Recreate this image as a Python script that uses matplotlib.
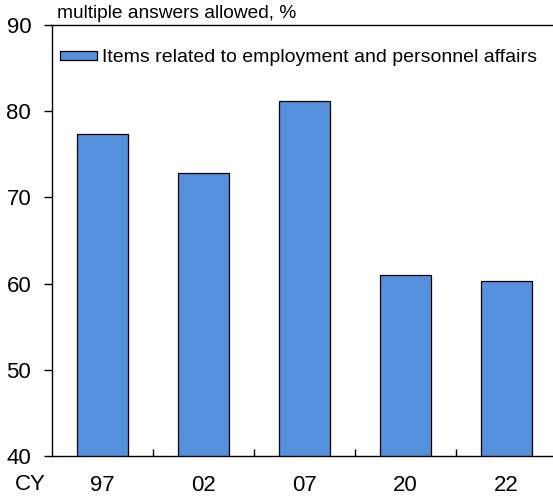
import matplotlib
matplotlib.use("Agg")
import matplotlib.pyplot as plt
import numpy as np

plt.rcParams['font.family'] = ['Liberation Sans', 'DejaVu Sans']

# data
years = ["97", "02", "07", "20", "22"]
values = [77.4, 72.8, 81.2, 61.0, 60.3]
series_name = "Items related to employment and personnel affairs"
unit_note = "multiple answers allowed, %"

fig = plt.figure(figsize=(5.53, 5.00), dpi=100)
ax = fig.add_axes([52 / 553, 44 / 500, 505 / 553, 431 / 500])

x = np.arange(len(years))
ax.bar(x, values, width=0.5, color="#5490DB", edgecolor="black",
       linewidth=0.9, label=series_name, zorder=2)

ax.set_xlim(-0.5, len(years) - 0.5)
ax.set_ylim(40, 90)
ax.set_yticks(np.arange(40, 91, 10))

# category labels centred, ticks between categories pointing inward
ax.set_xticks(x)
ax.set_xticklabels(years)
ax.tick_params(axis="x", which="major", length=0, pad=14, labelsize=16)
ax.set_xticks(np.arange(0.5, len(years) - 0.5, 1), minor=True)
ax.tick_params(axis="x", which="minor", direction="in", length=5, width=1)
ax.tick_params(axis="y", direction="out", length=6, width=1, labelsize=16, pad=9)

ax.spines["right"].set_visible(False)
for s in ["left", "bottom", "top"]:
    ax.spines[s].set_linewidth(1)

fig.text(57 / 553, 1 - 13 / 500, unit_note, fontsize=13.8, ha="left", va="center")
fig.text(30 / 553, 1 - 484 / 500, "CY", fontsize=16, ha="center", va="center")

ax.legend(loc="upper left", frameon=False, fontsize=14, handlelength=1.95,
          handleheight=0.4, handletextpad=0.25, borderaxespad=0.3,
          bbox_to_anchor=(-0.012, 0.975))

fig.savefig("out.png", dpi=100)
